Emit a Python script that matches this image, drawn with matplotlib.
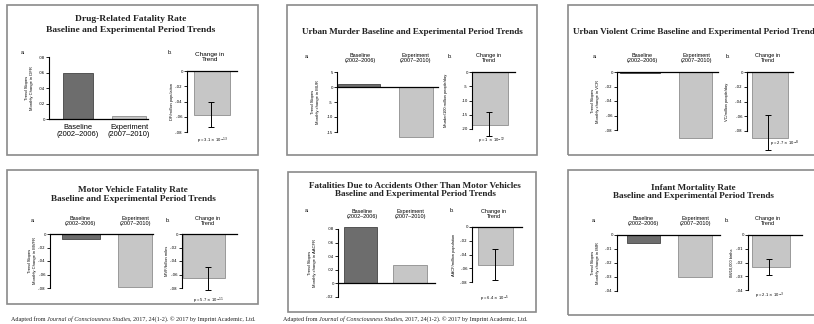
import matplotlib
matplotlib.use("Agg")
import matplotlib.pyplot as plt
from matplotlib.patches import Rectangle

# ---------------- data ----------------
titles = [
    "Drug-Related Fatality Rate\nBaseline and Experimental Period Trends",
    "Urban Murder Baseline and Experimental Period Trends",
    "Urban Violent Crime Baseline and Experimental Period Trends",
    "Motor Vehicle Fatality Rate\nBaseline and Experimental Period Trends",
    "Fatalities Due to Accidents Other Than Motor Vehicles\nBaseline and Experimental Period Trends",
    "Infant Mortality Rate\nBaseline and Experimental Period Trends",
]
categories = ["Baseline\n(2002\u20132006)", "Experiment\n(2007\u20132010)"]
slope_ylabels = ["Monthly Change in DFR", "Monthly change in MUR", "Monthly change in VCR",
                 "Monthly Change in MVFR", "Monthly change in AACFR", "Monthly change in IMR"]
change_ylabels = ["DF/million population", "Murder/100 million people/day",
                  "VC/million people/day", "MVF/billion miles",
                  "AACF/million population", "IM/10,000 births"]
baseline_slope = [0.060, 1.0, -0.002, -0.007, 0.083, -0.006]
experiment_slope = [0.004, -16.7, -0.091, -0.078, 0.027, -0.030]
change_value = [-0.058, -18.6, -0.0895, -0.065, -0.055, -0.023]
change_err_lo = [-0.0735, -22.4, -0.106, -0.083, -0.077, -0.029]
change_err_hi = [-0.041, -14.0, -0.058, -0.049, -0.032, -0.0175]
p_values = [r"p = 3.1 $\times$ 10$^{-13}$", r"p = 1 $\times$ 10$^{-12}$",
            r"p = 2.7 $\times$ 10$^{-8}$", r"p = 5.7 $\times$ 10$^{-11}$",
            r"p = 6.4 $\times$ 10$^{-5}$", r"p = 2.1 $\times$ 10$^{-3}$"]
slope_ticks = [[0, .02, .04, .06, .08], [5, 0, -5, -10, -15], [0, -.02, -.04, -.06, -.08],
               [0, -.02, -.04, -.06, -.08], [.08, .06, .04, .02, 0, -.02], [0, -.01, -.02, -.03, -.04]]
slope_ticklabels = [["0", ".02", ".04", ".06", ".08"], ["5", "0", "-5", "-10", "-15"],
                    ["0", "-.02", "-.04", "-.06", "-.08"], ["0", "-.02", "-.04", "-.06", "-.08"],
                    [".08", ".06", ".04", ".02", "0", "-.02"], ["0", "-.01", "-.02", "-.03", "-.04"]]
change_ticks = [[0, -.02, -.04, -.06, -.08], [0, -5, -10, -15, -20], [0, -.02, -.04, -.06, -.08],
                [0, -.02, -.04, -.06, -.08], [0, -.02, -.04, -.06, -.08], [0, -.01, -.02, -.03, -.04]]
change_ticklabels = [["0", "-.02", "-.04", "-.06", "-.08"], ["0", "-5", "-10", "-15", "-20"],
                     ["0", "-.02", "-.04", "-.06", "-.08"], ["0", "-.02", "-.04", "-.06", "-.08"],
                     ["0", "-.02", "-.04", "-.06", "-.08"], ["0", "-.01", "-.02", "-.03", "-.04"]]
footer_parts = ["Adapted from ", "Journal of Consciousness Studies",
                ", 2017, 24(1-2). \u00a9 2017 by Imprint Academic, Ltd."]

# ---------------- layout (pixels) ----------------
W, H = 814, 324
fig = plt.figure(figsize=(W / 100, H / 100), dpi=100)
fig.patch.set_facecolor("white")

def fx(x):
    return x / W

def fy(y):
    return 1 - y / H

def ftext(x, y, s, **kw):
    kw.setdefault("ha", "center")
    kw.setdefault("va", "center")
    return fig.text(fx(x), fy(y), s, **kw)

# frames: (left, top, right, bottom)
frames = [(7, 5, 258, 155), (287, 5, 537, 155), (568, 5, 818, 155),
          (7, 170, 258, 304), (288, 172, 536, 312), (568, 170, 818, 315)]
# title: (x, y_center, ha, fontsize, linespacing)
title_pos = [(131, 24.5, "center", 6.8, 1.38), (412, 32, "center", 6.6, 1.0),
             (573, 32, "left", 6.55, 1.0), (133, 194.5, "center", 6.7, 1.05),
             (415, 190.5, "center", 6.6, 1.0), (693, 192.5, "center", 6.6, 1.0)]
# axes a: (L, R, y_top, y_bot), bar spans in axes fraction
ax_a = [(49, 148, 57, 119), (337, 438, 72, 132), (617, 718, 72, 130),
        (50, 153, 234, 288), (338, 435, 229, 297), (617, 720, 235, 291)]
a_bars = [[(0.14, 0.44), (0.64, 0.98)], [(0.01, 0.43), (0.61, 0.95)], [(0.03, 0.43), (0.61, 0.94)],
          [(0.12, 0.49), (0.66, 0.99)], [(0.06, 0.40), (0.57, 0.92)], [(0.10, 0.42), (0.59, 0.92)]]
ax_b = [(187, 237, 71, 132), (472, 515, 72, 129), (747, 793, 72, 131),
        (182, 237, 234, 288), (472, 522, 227, 282), (748, 802, 235, 290)]
b_bars = [(0.14, 0.86), (0.01, 0.84), (0.11, 0.89), (0.02, 0.78), (0.12, 0.82), (0.08, 0.78)]
b_err_x = [0.48, 0.40, 0.46, 0.47, 0.46, 0.39]
# category label positions: (x1, x2, y_center, fontsize)
cat_pos = [(78, 129, 131, 5.4), (360, 415, 58, 4.0), (642, 696, 58, 4.0),
           (80, 135, 221, 4.0), (362, 410, 214, 4.0), (643, 695, 221, 4.0)]
a_label = [(23, 53), (307, 57), (595, 57), (33, 220), (307, 211), (594, 220)]
b_label = [(170, 53), (450, 57), (728, 57), (168, 220), (452, 211), (727, 220)]
chg_title = [(210, 57, 4.6), (489, 58, 4.0), (768, 58, 4.0), (208, 221, 4.0),
             (494, 214, 4.0), (768, 221, 4.0)]
ylab_a_x = [29.5, 315.5, 595.5, 32.5, 312.5, 595.5]
ylab_b_x = [172.5, 446, 727, 167, 454, 732]
p_pos = [(212, 141), (492, 141), (785, 144), (208, 301), (495, 299), (770, 296)]

dark = "#6d6d6d"
dark_edge = "#444444"
light = "#c6c6c6"
light_edge = "#8e8e8e"

def make_axes(L, R, yt, yb):
    return fig.add_axes([fx(L), fy(yb), (R - L) / W, (yb - yt) / H])

def style_axis(ax, ticks, labels):
    ax.set_facecolor("none")
    for s in ("top", "right", "bottom"):
        ax.spines[s].set_visible(False)
    ax.spines["left"].set_linewidth(0.8)
    ax.set_yticks(ticks)
    ax.set_yticklabels(labels, fontsize=2.8, family="DejaVu Sans")
    ax.tick_params(axis="y", length=2, width=0.6, pad=1)
    ax.set_xticks([])
    ax.set_xlim(0, 1)
    ax.set_ylim(min(ticks), max(ticks))
    ax.axhline(0, color="black", lw=0.9, zorder=3, clip_on=False)

for i in range(6):
    l, t, r, b = frames[i]
    fig.patches.append(Rectangle((fx(l), fy(b)), (r - l) / W, (b - t) / H, transform=fig.transFigure,
                                 fill=False, edgecolor="#8a8a8a", lw=1.2))
    tx, ty, tha, tfs, tls = title_pos[i]
    ftext(tx, ty, titles[i], ha=tha, fontsize=tfs, family="Liberation Serif", weight="bold",
          linespacing=tls, color="#222222", multialignment="center")

    # panel a: trend slopes
    axa = make_axes(*ax_a[i])
    style_axis(axa, slope_ticks[i], slope_ticklabels[i])
    vals = [baseline_slope[i], experiment_slope[i]]
    cols = [dark, light]
    edges = [dark_edge, light_edge]
    for j in range(2):
        x0, x1 = a_bars[i][j]
        axa.bar(x0, vals[j], width=x1 - x0, align="edge", color=cols[j], edgecolor=edges[j],
                lw=0.6, clip_on=False, zorder=2)
    c1, c2, cy, cfs = cat_pos[i]
    ftext(c1, cy, categories[0], fontsize=cfs, family="Liberation Sans", linespacing=1.1)
    ftext(c2, cy, categories[1], fontsize=cfs, family="Liberation Sans", linespacing=1.1)
    ftext(*a_label[i], "a.", fontsize=4, family="Liberation Sans")
    ycen = (ax_a[i][2] + ax_a[i][3]) / 2
    ftext(ylab_a_x[i], ycen, "Trend Slopes\n" + slope_ylabels[i], rotation=90, fontsize=3.0,
          family="Liberation Sans", linespacing=1.3)

    # panel b: change in trend
    axb = make_axes(*ax_b[i])
    style_axis(axb, change_ticks[i], change_ticklabels[i])
    x0, x1 = b_bars[i]
    axb.bar(x0, change_value[i], width=x1 - x0, align="edge", color=light, edgecolor=light_edge,
            lw=0.6, clip_on=False, zorder=2)
    v = change_value[i]
    eb = axb.errorbar(b_err_x[i], v, yerr=[[v - change_err_lo[i]], [change_err_hi[i] - v]],
                      fmt="none", ecolor="black", elinewidth=0.7, capsize=2.5, capthick=0.7, zorder=4)
    for art in eb.get_children():
        art.set_clip_on(False)
    ftext(*b_label[i], "b.", fontsize=4, family="Liberation Sans")
    cx, cy2, cfs2 = chg_title[i]
    ftext(cx, cy2, "Change in\nTrend", fontsize=cfs2, family="Liberation Sans", linespacing=1.1)
    ycb = (ax_b[i][2] + ax_b[i][3]) / 2
    ftext(ylab_b_x[i], ycb, change_ylabels[i], rotation=90, fontsize=2.9, family="Liberation Sans")
    px, py = p_pos[i]
    ftext(px, py, p_values[i], fontsize=3.0, family="Liberation Sans")

# footers with italic journal name
fig.canvas.draw()
renderer = fig.canvas.get_renderer()
for cx in (133, 405):
    styles = ["normal", "italic", "normal"]
    texts = []
    for part, st in zip(footer_parts, styles):
        tt = fig.text(0.0, fy(319), part, fontsize=4.45, family="Liberation Serif", style=st,
                      ha="left", va="center", color="#222222")
        texts.append(tt)
    widths = [tt.get_window_extent(renderer).width for tt in texts]
    total = sum(widths)
    start = cx - total / 2
    for tt, w in zip(texts, widths):
        tt.set_x(fx(start))
        start += w

fig.savefig("out.png", dpi=100, facecolor="white")
